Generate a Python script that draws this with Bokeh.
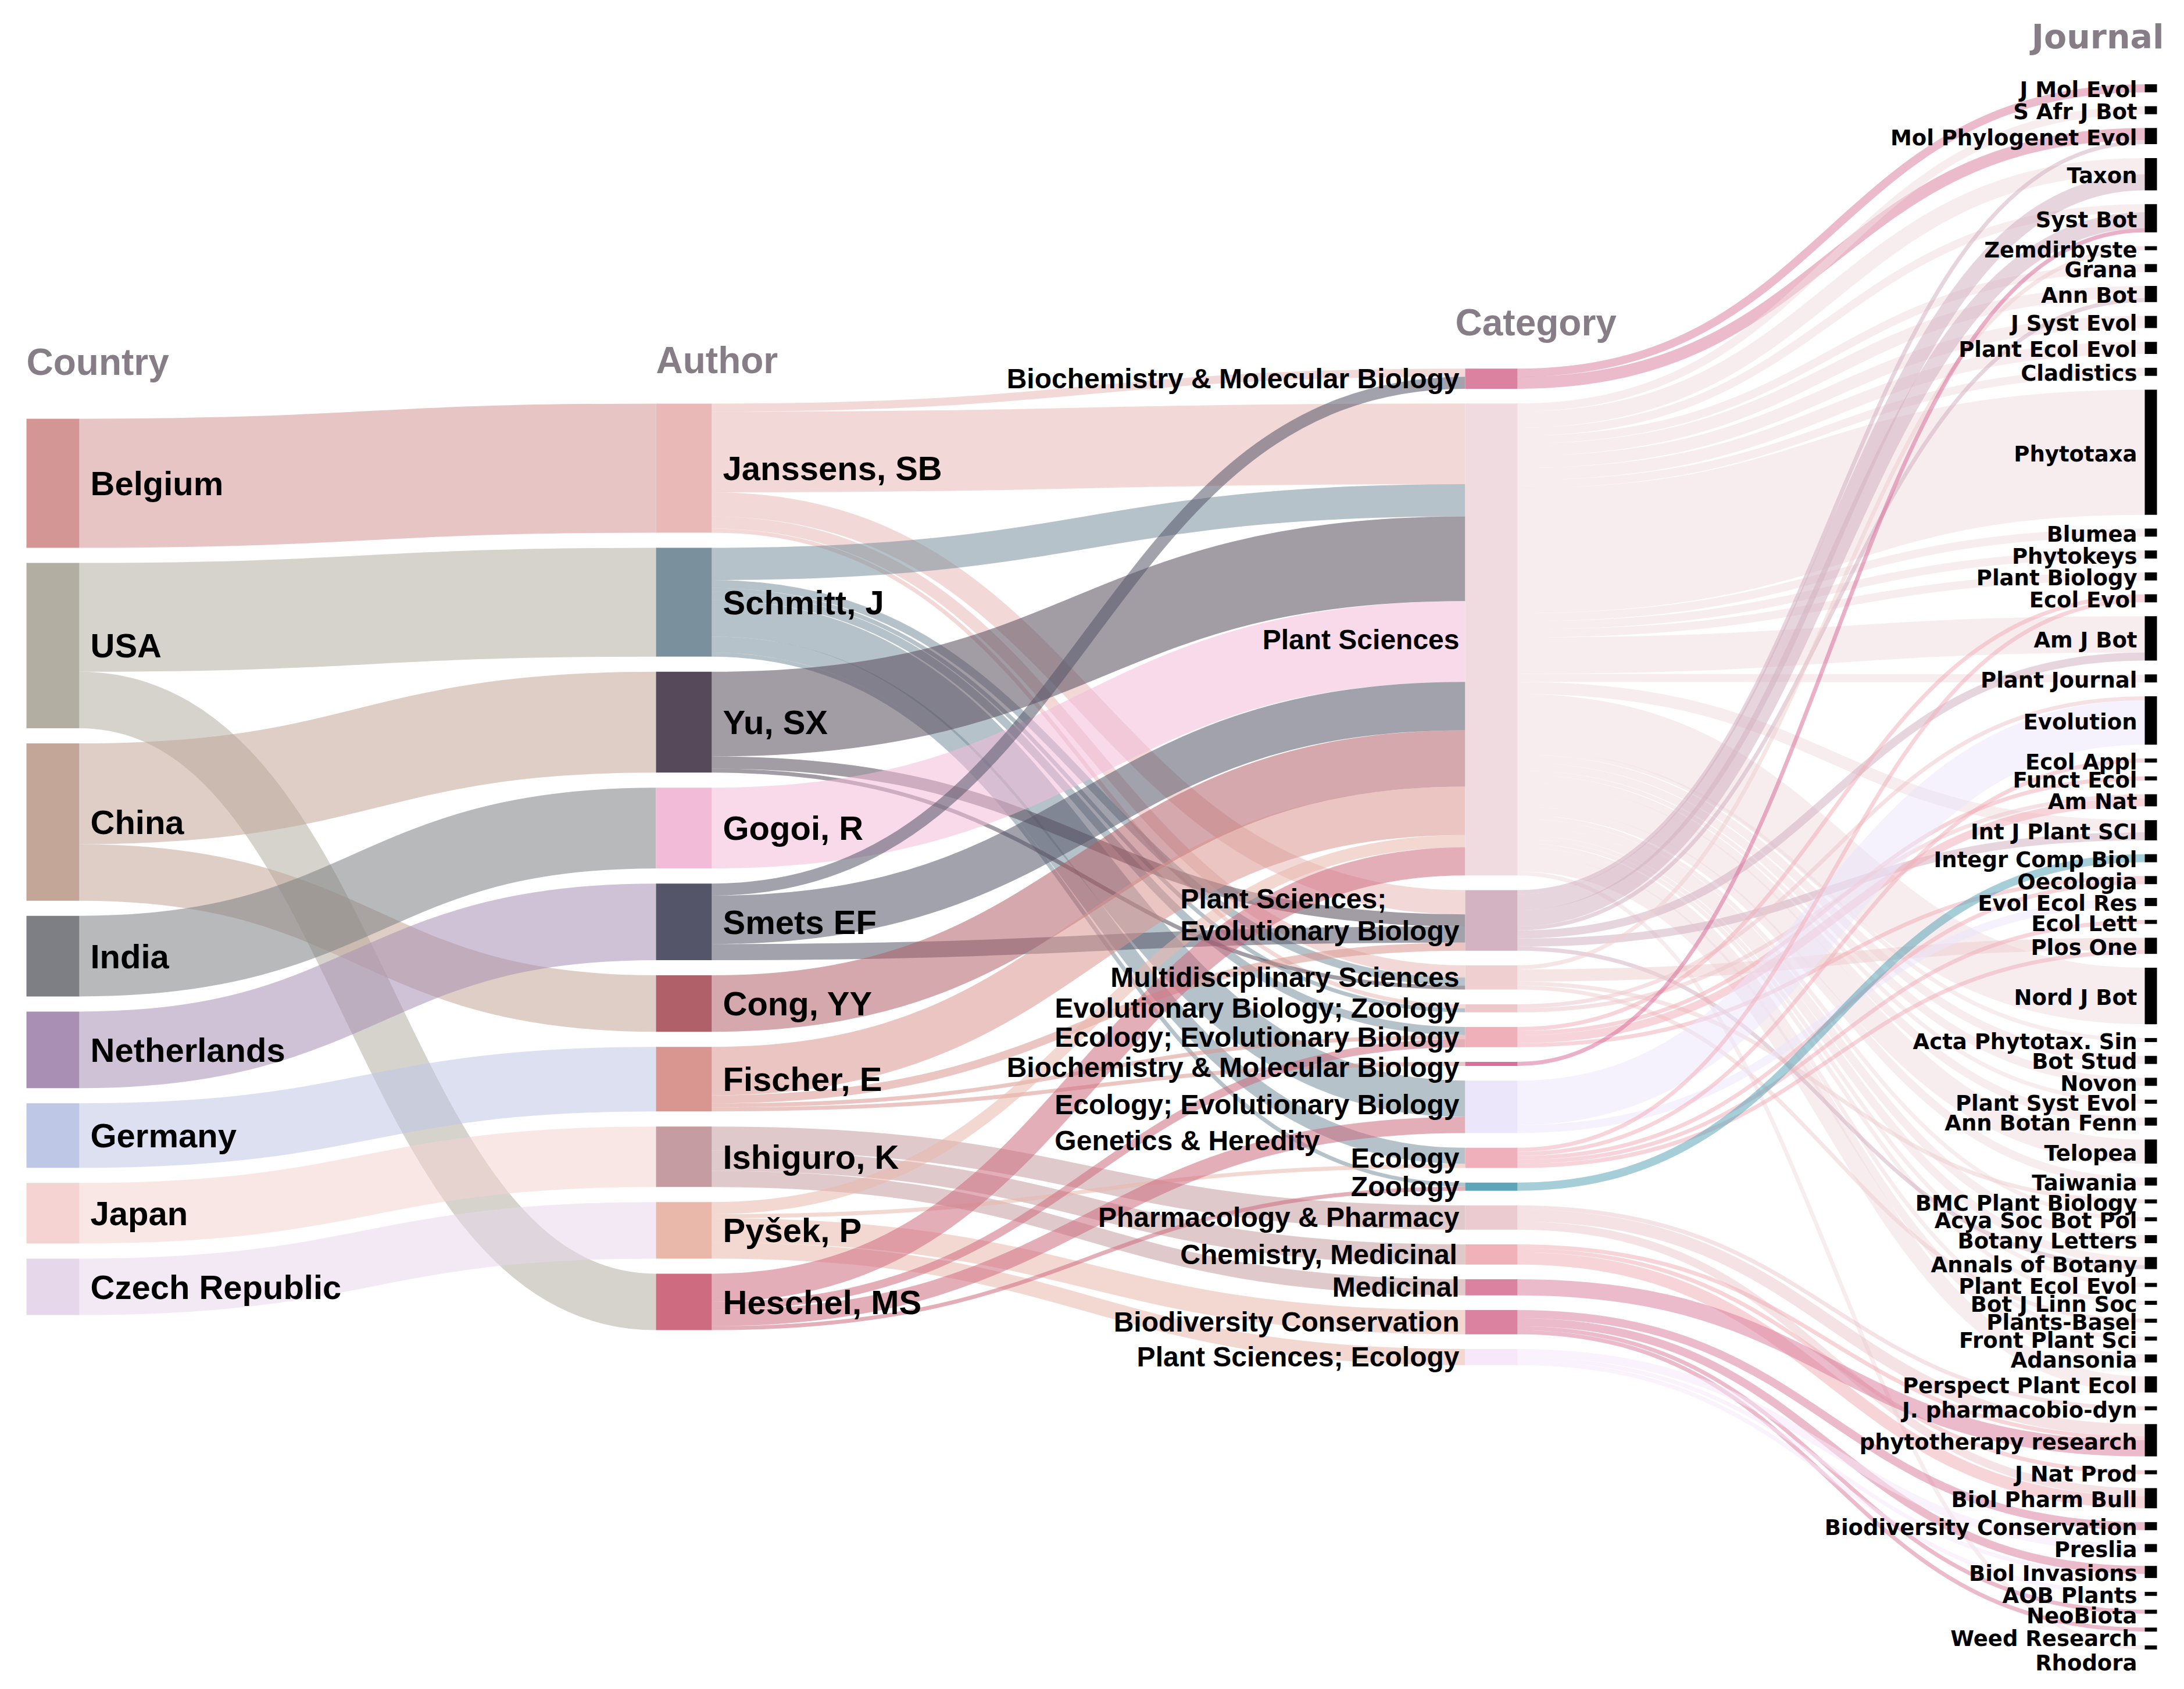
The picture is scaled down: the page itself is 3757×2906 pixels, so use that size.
from collections import defaultdict
from bokeh.plotting import figure
from bokeh.models import Range1d, ColumnDataSource
from bokeh.embed import file_html
from bokeh.resources import INLINE
from bokeh.core.properties import value

# ---------------- data ----------------
countries = ["Belgium", "USA", "China", "India", "Netherlands", "Germany", "Japan", "Czech Republic"]
country_colors = ["#d39694", "#b2afa2", "#c3a697", "#7d7f84", "#aa8fb5", "#bfc7e6", "#f4d3d2", "#e7d7eb"]

authors = ["Janssens, SB", "Schmitt, J", "Yu, SX", "Gogoi, R", "Smets EF", "Cong, YY",
           "Fischer, E", "Ishiguro, K", "Pyšek, P", "Heschel, MS"]
author_colors = ["#e8b9b7", "#7a909d", "#564a5a", "#f2bbd8", "#555569", "#b06068",
                 "#d99690", "#c59ca1", "#eab7ab", "#ce6b80"]

category_ids = ["BMB1", "PS", "PSEB", "MS", "EBZ", "EEB1", "BMB2", "EEB2", "ECO", "ZOO",
                "PP", "CM", "MED", "BC", "PSE"]
category_labels = [["Biochemistry & Molecular Biology"], ["Plant Sciences"],
                   ["Plant Sciences;", "Evolutionary Biology"], ["Multidisciplinary Sciences"],
                   ["Evolutionary Biology; Zoology"], ["Ecology; Evolutionary Biology"],
                   ["Biochemistry & Molecular Biology"],
                   ["Ecology; Evolutionary Biology", "Genetics & Heredity"],
                   ["Ecology"], ["Zoology"], ["Pharmacology & Pharmacy"], ["Chemistry, Medicinal"],
                   ["Medicinal"], ["Biodiversity Conservation"], ["Plant Sciences; Ecology"]]
category_colors = ["#db82a1", "#f0dce0", "#d3b3c1", "#efcfd0", "#ecc8cc", "#f0b0b9", "#d8709a",
                   "#ece6fb", "#f0b0bb", "#5da5b8", "#ebcbd0", "#f0b1b8", "#db82a1", "#db82a1", "#f6e7f9"]

journals = ["J Mol Evol", "S Afr J Bot", "Mol Phylogenet Evol", "Taxon", "Syst Bot", "Zemdirbyste",
            "Grana", "Ann Bot", "J Syst Evol", "Plant Ecol Evol", "Cladistics", "Phytotaxa", "Blumea",
            "Phytokeys", "Plant Biology", "Ecol Evol", "Am J Bot", "Plant Journal", "Evolution",
            "Ecol Appl", "Funct Ecol", "Am Nat", "Int J Plant SCI", "Integr Comp Biol", "Oecologia",
            "Evol Ecol Res", "Ecol Lett", "Plos One", "Nord J Bot", "Acta Phytotax. Sin", "Bot Stud",
            "Novon", "Plant Syst Evol", "Ann Botan Fenn", "Telopea", "Taiwania", "BMC Plant Biology",
            "Acya Soc Bot Pol", "Botany Letters", "Annals of Botany", "Plant Ecol Evol (2)",
            "Bot J Linn Soc", "Plants-Basel", "Front Plant Sci", "Adansonia", "Perspect Plant Ecol",
            "J. pharmacobio-dyn", "phytotherapy research", "J Nat Prod", "Biol Pharm Bull",
            "Biodiversity Conservation", "Preslia", "Biol Invasions", "AOB Plants", "NeoBiota",
            "Weed Research", "Rhodora"]
journal_color = "#000000"

country_author = [
    ("Belgium", "Janssens, SB", 32), ("USA", "Schmitt, J", 27), ("USA", "Heschel, MS", 14),
    ("China", "Yu, SX", 25), ("China", "Cong, YY", 14), ("India", "Gogoi, R", 20),
    ("Netherlands", "Smets EF", 19), ("Germany", "Fischer, E", 16), ("Japan", "Ishiguro, K", 15),
    ("Czech Republic", "Pyšek, P", 14),
]

author_category = [
    ("Janssens, SB", "BMB1", 2), ("Janssens, SB", "PS", 20), ("Janssens, SB", "PSEB", 6),
    ("Janssens, SB", "MS", 3), ("Janssens, SB", "EBZ", 1),
    ("Schmitt, J", "PS", 8), ("Schmitt, J", "MS", 2), ("Schmitt, J", "EBZ", 1),
    ("Schmitt, J", "EEB1", 2), ("Schmitt, J", "EEB2", 9), ("Schmitt, J", "ECO", 4),
    ("Schmitt, J", "ZOO", 1),
    ("Yu, SX", "PS", 21), ("Yu, SX", "PSEB", 3), ("Yu, SX", "MS", 1),
    ("Gogoi, R", "PS", 20),
    ("Smets EF", "BMB1", 3), ("Smets EF", "PS", 12), ("Smets EF", "PSEB", 4),
    ("Cong, YY", "PS", 14),
    ("Fischer, E", "PS", 12), ("Fischer, E", "PSEB", 2), ("Fischer, E", "BMB2", 1),
    ("Fischer, E", "EEB1", 1),
    ("Ishiguro, K", "PP", 6), ("Ishiguro, K", "CM", 5), ("Ishiguro, K", "MED", 4),
    ("Pyšek, P", "PS", 3), ("Pyšek, P", "BC", 6), ("Pyšek, P", "PSE", 4), ("Pyšek, P", "ECO", 1),
    ("Heschel, MS", "PS", 7), ("Heschel, MS", "EEB1", 2), ("Heschel, MS", "EEB2", 4),
    ("Heschel, MS", "ZOO", 1),
]

category_journal = [
    ("BMB1", "J Mol Evol", 2), ("BMB1", "Mol Phylogenet Evol", 3),
    ("PS", "S Afr J Bot", 2), ("PS", "Taxon", 4),
    ("PS", "Syst Bot", 2), ("PS", "Grana", 2), ("PS", "Ann Bot", 3), ("PS", "J Syst Evol", 3),
    ("PS", "Plant Ecol Evol", 3), ("PS", "Cladistics", 2), ("PS", "Phytotaxa", 31),
    ("PS", "Blumea", 2), ("PS", "Phytokeys", 2), ("PS", "Plant Biology", 2), ("PS", "Am J Bot", 9),
    ("PS", "Plant Journal", 2), ("PS", "Int J Plant SCI", 3), ("PS", "Nord J Bot", 14),
    ("PS", "Acta Phytotax. Sin", 1), ("PS", "Bot Stud", 2), ("PS", "Novon", 2),
    ("PS", "Plant Syst Evol", 1), ("PS", "Ann Botan Fenn", 2), ("PS", "Telopea", 6),
    ("PS", "Taiwania", 2), ("PS", "Acya Soc Bot Pol", 1), ("PS", "Botany Letters", 2),
    ("PS", "Annals of Botany", 2), ("PS", "Plant Ecol Evol (2)", 1), ("PS", "Bot J Linn Soc", 1),
    ("PS", "Front Plant Sci", 1), ("PS", "Adansonia", 2), ("PS", "Perspect Plant Ecol", 4),
    ("PS", "Rhodora", 1),
    ("PSEB", "Mol Phylogenet Evol", 1), ("PSEB", "Taxon", 4), ("PSEB", "Syst Bot", 4),
    ("PSEB", "Ann Bot", 1), ("PSEB", "Am J Bot", 2), ("PSEB", "Int J Plant SCI", 2),
    ("PSEB", "Annals of Botany", 1),
    ("MS", "Zemdirbyste", 1), ("MS", "Plos One", 3), ("MS", "BMC Plant Biology", 1),
    ("MS", "Plants-Basel", 1),
    ("EBZ", "Evolution", 1), ("EBZ", "Am Nat", 1),
    ("EEB1", "Am Nat", 2), ("EEB1", "Ecol Evol", 1), ("EEB1", "Oecologia", 1), ("EEB1", "Funct Ecol", 1),
    ("BMB2", "Syst Bot", 1),
    ("EEB2", "Evolution", 11), ("EEB2", "Evol Ecol Res", 2),
    ("ECO", "Ecol Evol", 1), ("ECO", "Ecol Appl", 1), ("ECO", "Oecologia", 1), ("ECO", "Plos One", 1),
    ("ECO", "Ecol Lett", 1),
    ("ZOO", "Integr Comp Biol", 2),
    ("PP", "phytotherapy research", 3), ("PP", "Biol Pharm Bull", 2), ("PP", "J. pharmacobio-dyn", 1),
    ("CM", "J Nat Prod", 1), ("CM", "Biol Pharm Bull", 3), ("CM", "phytotherapy research", 1),
    ("MED", "phytotherapy research", 4),
    ("BC", "Biodiversity Conservation", 2), ("BC", "Biol Invasions", 2), ("BC", "NeoBiota", 1),
    ("BC", "Weed Research", 1),
    ("PSE", "Preslia", 2), ("PSE", "Biol Invasions", 1), ("PSE", "AOB Plants", 1),
]

# ---------------- layout (page pixel space) ----------------
W, H = 3740, 2888
KY = 6.94                      # px per paper
CY = 1499                      # common vertical centre of columns
COL_X0 = [53, 1136, 2528, 3697]
COL_X1 = [144, 1232, 2618, 3718]
COL_PAD = [26, 26, 25.3, 23.8]
LINK_ALPHA = 0.55

columns = [countries, authors, category_ids, journals]
colors = {}
colors.update(dict(zip(countries, country_colors)))
colors.update(dict(zip(authors, author_colors)))
colors.update(dict(zip(category_ids, category_colors)))
for j in journals:
    colors[j] = journal_color

links = country_author + author_category + category_journal
vin, vout = defaultdict(float), defaultdict(float)
for s, t, v in links:
    vout[s] += v
    vin[t] += v
val = {n: max(vin[n], vout[n]) for col in columns for n in col}
col_of = {n: ci for ci, col in enumerate(columns) for n in col}

ny0, ny1 = {}, {}
for ci, col in enumerate(columns):
    tot = sum(val[n] for n in col) * KY + (len(col) - 1) * COL_PAD[ci]
    y = CY - tot / 2
    for n in col:
        ny0[n] = y
        ny1[n] = y + val[n] * KY
        y = ny1[n] + COL_PAD[ci]

# link stacking (d3-sankey style ordering)
out_links, in_links = defaultdict(list), defaultdict(list)
for i, (s, t, v) in enumerate(links):
    out_links[s].append(i)
    in_links[t].append(i)
sy, ty = {}, {}
for n, li in out_links.items():
    off = ny0[n]
    for i in sorted(li, key=lambda k: ny0[links[k][1]]):
        w = links[i][2] * KY
        sy[i] = off + w / 2
        off += w
for n, li in in_links.items():
    off = ny0[n]
    for i in sorted(li, key=lambda k: ny0[links[k][0]]):
        w = links[i][2] * KY
        ty[i] = off + w / 2
        off += w

lk = dict(x0=[], x1=[], cx=[], y0=[], y1=[], w=[], color=[])
for i, (s, t, v) in enumerate(links):
    x0 = COL_X1[col_of[s]]
    x1 = COL_X0[col_of[t]]
    lk["x0"].append(x0); lk["x1"].append(x1); lk["cx"].append((x0 + x1) / 2)
    lk["y0"].append(sy[i]); lk["y1"].append(ty[i])
    lk["w"].append(v * KY); lk["color"].append(colors[s])

p = figure(width=W, height=H, x_range=Range1d(8, 8 + W), y_range=Range1d(8 + H, 8),
           output_backend="svg", toolbar_location=None, min_border=0,
           x_axis_location=None, y_axis_location=None)
p.grid.visible = False
p.outline_line_color = None
p.background_fill_color = "white"
p.border_fill_color = "white"

p.bezier(x0="x0", y0="y0", x1="x1", y1="y1", cx0="cx", cy0="y0", cx1="cx", cy1="y1",
         line_color="color", line_width="w", line_alpha=LINK_ALPHA, line_cap="butt",
         source=ColumnDataSource(lk))

nd = dict(l=[], r=[], t=[], b=[], color=[])
for ci, col in enumerate(columns):
    for n in col:
        nd["l"].append(COL_X0[ci]); nd["r"].append(COL_X1[ci])
        nd["t"].append(ny0[n]); nd["b"].append(ny1[n]); nd["color"].append(colors[n])
p.quad(left="l", right="r", top="t", bottom="b", fill_color="color", line_color=None,
       source=ColumnDataSource(nd))

# ---------------- labels ----------------
ARIAL_B = {' ': 278, '&': 722, ',': 278, ';': 333, '-': 333, '.': 278,
           'A': 722, 'B': 722, 'C': 722, 'D': 722, 'E': 667, 'F': 611, 'G': 778, 'H': 722, 'I': 278,
           'J': 556, 'K': 722, 'L': 611, 'M': 833, 'N': 722, 'O': 778, 'P': 667, 'Q': 778, 'R': 722,
           'S': 667, 'T': 611, 'U': 722, 'V': 667, 'W': 944, 'X': 667, 'Y': 667, 'Z': 611,
           'a': 556, 'b': 611, 'c': 556, 'd': 611, 'e': 556, 'f': 333, 'g': 611, 'h': 611, 'i': 278,
           'j': 278, 'k': 556, 'l': 278, 'm': 889, 'n': 611, 'o': 611, 'p': 611, 'q': 611, 'r': 389,
           's': 556, 't': 333, 'u': 611, 'v': 556, 'w': 778, 'x': 556, 'y': 556, 'z': 500}


def text_w(s, size):
    return sum(ARIAL_B.get(c, 556) for c in s) / 1000.0 * size


SANS = value("Liberation Sans")
DEJA = value("DejaVu Sans")

# countries and authors: left aligned, right of the node
for ci, size in ((0, 58), (1, 58)):
    col = columns[ci]
    p.text(x=[COL_X1[ci] + 19] * len(col), y=[(ny0[n] + ny1[n]) / 2 for n in col], text=col,
           text_font=SANS, text_font_style="bold", text_font_size=value(f"{size}px"),
           text_color="#000000", text_align="left", text_baseline="middle")

# categories: right aligned block left of the node
CAT_FS = 48
CAT_RIGHT = COL_X0[2] - 10
cat_dy = {"PSEB": -37, "EEB2": -4, "BMB2": 6}
cat_step = {"PSEB": 55, "EEB2": 62}
tx, tyy, tt = [], [], []
for cid, lines in zip(category_ids, category_labels):
    c = (ny0[cid] + ny1[cid]) / 2 + cat_dy.get(cid, 0)
    left = CAT_RIGHT - max(text_w(s, CAT_FS) for s in lines)
    for k, s in enumerate(lines):
        tx.append(left if len(lines) > 1 else CAT_RIGHT - text_w(s, CAT_FS))
        tyy.append(c + k * cat_step.get(cid, 0))
        tt.append(s)
p.text(x=tx, y=tyy, text=tt, text_font=SANS, text_font_style="bold",
       text_font_size=value(f"{CAT_FS}px"), text_color="#000000", text_align="left",
       text_baseline="middle")

# journals (the last labels are pushed down a little, as in the original)
jl = [j.replace(" (2)", "") for j in journals]
j_dy = {"NeoBiota": 4, "Weed Research": 13, "Rhodora": 24}
p.text(x=[COL_X0[3] - 13] * len(journals),
       y=[(ny0[n] + ny1[n]) / 2 + 3 + j_dy.get(n, 0) for n in journals], text=jl,
       text_font=DEJA, text_font_style="bold", text_font_size=value("37px"),
       text_color="#000000", text_align="right", text_baseline="middle")

# column titles
TITLE_C = "#877d87"
p.text(x=[53, 1136, 2511], y=[630, 627, 562], text=["Country", "Author", "Category"],
       text_font=SANS, text_font_style="bold", text_font_size=value("64px"),
       text_color=TITLE_C, text_align="left", text_baseline="middle")
p.text(x=[3730], y=[70], text=["Journal"], text_font=DEJA, text_font_style="bold",
       text_font_size=value("57px"), text_color=TITLE_C, text_align="right",
       text_baseline="middle")

open("out.html", "w").write(file_html(p, INLINE))
